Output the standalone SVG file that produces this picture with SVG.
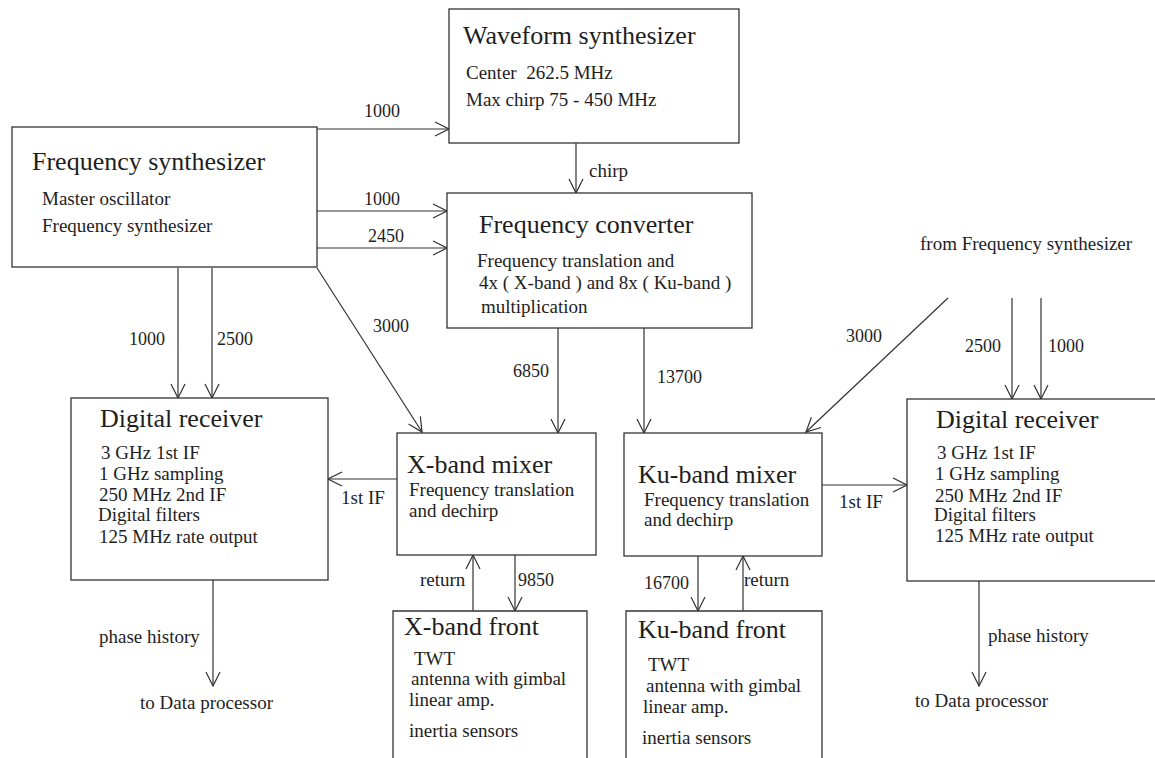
<svg xmlns="http://www.w3.org/2000/svg" width="1155" height="758" viewBox="0 0 1155 758">
<style>
text{font-family:"Liberation Serif","Times New Roman",serif;fill:#1e1e1e}
.t{font-size:26px}
.s{font-size:19px}
.l{font-size:18px}
.box{fill:#fff;stroke:#333;stroke-width:1.3}
.c{stroke:#333;stroke-width:1.2;fill:none}
</style>
<defs>
<marker id="arr" viewBox="-15 -8 16 16" refX="0" refY="0" markerWidth="16" markerHeight="16" orient="auto" markerUnits="userSpaceOnUse">
<path d="M-14,-7 L0,0 L-14,7" fill="none" stroke="#333" stroke-width="1.2"/>
</marker>
</defs>
<rect width="1155" height="758" fill="#fff"/>

<g id="connectors">
<line class="c" x1="317" y1="129" x2="449" y2="129" marker-end="url(#arr)"/>
<line class="c" x1="317" y1="211" x2="447" y2="211" marker-end="url(#arr)"/>
<line class="c" x1="317" y1="248" x2="447" y2="248" marker-end="url(#arr)"/>
<line class="c" x1="576" y1="143" x2="576" y2="193" marker-end="url(#arr)"/>
<line class="c" x1="178" y1="268" x2="178" y2="398" marker-end="url(#arr)"/>
<line class="c" x1="212" y1="268" x2="212" y2="398" marker-end="url(#arr)"/>
<line class="c" x1="317" y1="268" x2="422" y2="432" marker-end="url(#arr)"/>
<line class="c" x1="558" y1="328" x2="558" y2="433" marker-end="url(#arr)"/>
<line class="c" x1="644" y1="328" x2="644" y2="433" marker-end="url(#arr)"/>
<line class="c" x1="948" y1="298" x2="806" y2="432" marker-end="url(#arr)"/>
<line class="c" x1="1012" y1="298" x2="1012" y2="399" marker-end="url(#arr)"/>
<line class="c" x1="1041" y1="298" x2="1041" y2="399" marker-end="url(#arr)"/>
<line class="c" x1="397" y1="479" x2="328" y2="479" marker-end="url(#arr)"/>
<line class="c" x1="822" y1="485" x2="907" y2="485" marker-end="url(#arr)"/>
<line class="c" x1="473" y1="611" x2="473" y2="555" marker-end="url(#arr)"/>
<line class="c" x1="515" y1="555" x2="515" y2="611" marker-end="url(#arr)"/>
<line class="c" x1="698" y1="556" x2="698" y2="611" marker-end="url(#arr)"/>
<line class="c" x1="743" y1="611" x2="743" y2="556" marker-end="url(#arr)"/>
<line class="c" x1="213" y1="580" x2="213" y2="686" marker-end="url(#arr)"/>
<line class="c" x1="979" y1="581" x2="979" y2="686" marker-end="url(#arr)"/>
<text class="l" x="364" y="117">1000</text>
<text class="l" x="364" y="205">1000</text>
<text class="l" x="368" y="242">2450</text>
<text class="s" x="589" y="177">chirp</text>
<text class="l" x="129" y="345">1000</text>
<text class="l" x="217" y="345">2500</text>
<text class="l" x="373" y="332">3000</text>
<text class="l" x="513" y="377">6850</text>
<text class="l" x="657" y="383">13700</text>
<text class="s" x="920" y="250">from Frequency synthesizer</text>
<text class="l" x="846" y="342">3000</text>
<text class="l" x="965" y="352">2500</text>
<text class="l" x="1048" y="352">1000</text>
<text class="s" x="341" y="504">1st IF</text>
<text class="s" x="839" y="508">1st IF</text>
<text class="s" x="420" y="586">return</text>
<text class="l" x="518" y="586">9850</text>
<text class="l" x="644" y="589">16700</text>
<text class="s" x="744" y="586">return</text>
<text class="s" x="99" y="643">phase history</text>
<text class="s" x="140" y="709">to Data processor</text>
<text class="s" x="988" y="642">phase history</text>
<text class="s" x="915" y="707">to Data processor</text>
</g>

<g id="frequency-synthesizer">
<rect class="box" x="12" y="127" width="305" height="140"/>
<text class="t" x="32" y="170">Frequency synthesizer</text>
<text class="s" x="42" y="205">Master oscillator</text>
<text class="s" x="42" y="232">Frequency synthesizer</text>
</g>

<g id="waveform-synthesizer">
<rect class="box" x="449" y="9" width="290" height="134"/>
<text class="t" x="463" y="44">Waveform synthesizer</text>
<text class="s" x="466" y="79">Center&#160; 262.5 MHz</text>
<text class="s" x="466" y="106">Max chirp 75 - 450 MHz</text>
</g>

<g id="frequency-converter">
<rect class="box" x="447" y="193" width="305" height="135"/>
<text class="t" x="479" y="233">Frequency converter</text>
<text class="s" x="477" y="267">Frequency translation and</text>
<text class="s" x="479" y="289">4x ( X-band ) and 8x ( Ku-band )</text>
<text class="s" x="481" y="313">multiplication</text>
</g>

<g id="digital-receiver-left">
<rect class="box" x="71" y="398" width="257" height="182"/>
<text class="t" x="100" y="427">Digital receiver</text>
<text class="s" x="101" y="459">3 GHz 1st IF</text>
<text class="s" x="99" y="480">1 GHz sampling</text>
<text class="s" x="99" y="501">250 MHz 2nd IF</text>
<text class="s" x="98" y="521">Digital filters</text>
<text class="s" x="99" y="543">125 MHz rate output</text>
</g>

<g id="x-band-mixer">
<rect class="box" x="397" y="433" width="199" height="122"/>
<text class="t" x="407" y="473">X-band mixer</text>
<text class="s" x="409" y="496">Frequency translation</text>
<text class="s" x="409" y="517">and dechirp</text>
</g>

<g id="ku-band-mixer">
<rect class="box" x="624" y="433" width="198" height="123"/>
<text class="t" x="638" y="483">Ku-band mixer</text>
<text class="s" x="644" y="506">Frequency translation</text>
<text class="s" x="644" y="526">and dechirp</text>
</g>

<g id="digital-receiver-right">
<rect class="box" x="907" y="399" width="260" height="182"/>
<text class="t" x="936" y="428">Digital receiver</text>
<text class="s" x="937" y="459">3 GHz 1st IF</text>
<text class="s" x="935" y="480">1 GHz sampling</text>
<text class="s" x="935" y="502">250 MHz 2nd IF</text>
<text class="s" x="934" y="521">Digital filters</text>
<text class="s" x="935" y="542">125 MHz rate output</text>
</g>

<g id="x-band-front">
<path class="box" d="M393,760 L393,611 L587,611 L587,760"/>
<text class="t" x="404" y="635">X-band front</text>
<text class="s" x="414" y="665">TWT</text>
<text class="s" x="411" y="685">antenna with gimbal</text>
<text class="s" x="409" y="706">linear amp.</text>
<text class="s" x="409" y="737">inertia sensors</text>
</g>

<g id="ku-band-front">
<path class="box" d="M626,760 L626,611 L822,611 L822,760"/>
<text class="t" x="638" y="638">Ku-band front</text>
<text class="s" x="648" y="671">TWT</text>
<text class="s" x="646" y="692">antenna with gimbal</text>
<text class="s" x="643" y="713">linear amp.</text>
<text class="s" x="642" y="744">inertia sensors</text>
</g>
</svg>
